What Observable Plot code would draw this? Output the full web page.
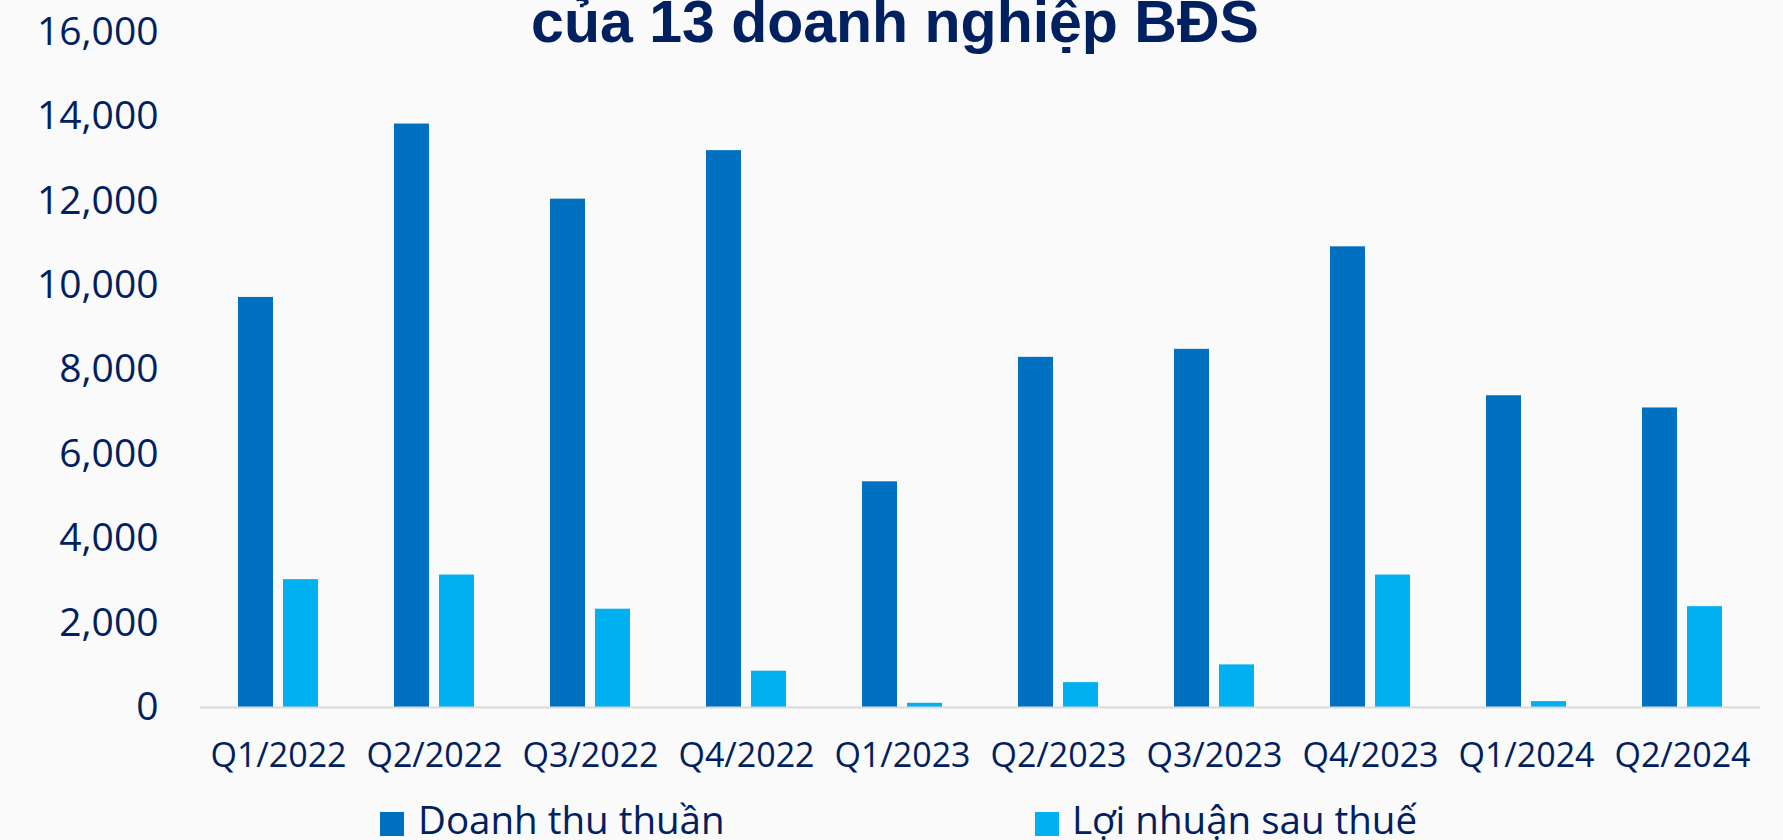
<!DOCTYPE html>
<html>
<head>
<meta charset="utf-8">
<script src="https://cdn.jsdelivr.net/npm/d3@7"></script>
<script src="https://cdn.jsdelivr.net/npm/@observablehq/plot@0.6"></script>
<style>
  html, body { margin: 0; padding: 0; background: #fafafa; overflow: hidden; }
  #wrap { position: relative; width: 1783px; height: 840px; }
  #title { position: absolute; left: 0; width: 1790px; top: -7px; text-align: center;
    font-family: "Liberation Sans", Arial, sans-serif; font-weight: bold; font-size: 59px; line-height: 1;
    color: #002060; white-space: nowrap; }
  .leg { position: absolute; top: 800px; font-family: "Open Sans", sans-serif; font-size: 38.5px; line-height: 1;
    color: #002060; white-space: nowrap; }
  .sw { position: absolute; width: 24px; height: 24px; top: 812px; }
  #chart svg { position: absolute; left: 0; top: 0; }
</style>
</head>
<body>
<div id="wrap">
  <div id="chart"></div>
  <div id="title"></div>
  <div id="legend"></div>
</div>
<script>
const quarters = ["Q1/2022","Q2/2022","Q3/2022","Q4/2022","Q1/2023","Q2/2023","Q3/2023","Q4/2023","Q1/2024","Q2/2024"];
const seriesNames = ["Doanh thu thuần", "Lợi nhuận sau thuế"];
const revenue = [9720, 13830, 12050, 13200, 5350, 8300, 8490, 10920, 7390, 7100];
const profit  = [3030, 3140, 2330, 860, 100, 590, 1010, 3140, 140, 2390];
const colors = ["#0070C0", "#00B0F0"];
const yTicks = [0, 2000, 4000, 6000, 8000, 10000, 12000, 14000, 16000];
const titleText = "của 13 doanh nghiệp BĐS";

const data = [];
quarters.forEach((q, i) => {
  data.push({quarter: q, series: seriesNames[0], value: revenue[i]});
  data.push({quarter: q, series: seriesNames[1], value: profit[i]});
});

const chart = Plot.plot({
  width: 1783,
  height: 840,
  marginTop: 32,
  marginBottom: 133,
  marginLeft: 199,
  marginRight: 23,
  style: {background: "transparent", color: "#002060", fontFamily: "'Open Sans', sans-serif", overflow: "visible"},
  fx: {domain: quarters, padding: 0, label: null},
  x: {domain: seriesNames, axis: null, paddingInner: 0.22, paddingOuter: 0.825},
  y: {domain: [0, 16000], label: null},
  color: {domain: seriesNames, range: colors},
  marks: [
    Plot.axisY({ticks: yTicks, tickFormat: d3.format(","), tickSize: 0, tickPadding: 42, fontSize: 39, label: null}),
    Plot.axisFx({anchor: "bottom", tickSize: 0, tickPadding: 35, fontSize: 34, label: null}),
    Plot.barY(data, {fx: "quarter", x: "series", y: "value", fill: "series"}),
    Plot.ruleY([0], {stroke: "#d9d9d9", strokeWidth: 2})
  ]
});
document.getElementById("chart").appendChild(chart);
document.getElementById("title").textContent = titleText;

const legend = document.getElementById("legend");
const legPos = [[380, 418], [1035, 1072]];
seriesNames.forEach((name, i) => {
  const sw = document.createElement("div");
  sw.className = "sw";
  sw.style.left = legPos[i][0] + "px";
  sw.style.background = colors[i];
  legend.appendChild(sw);
  const t = document.createElement("div");
  t.className = "leg";
  t.style.left = legPos[i][1] + "px";
  t.textContent = name;
  legend.appendChild(t);
});
</script>
</body>
</html>
